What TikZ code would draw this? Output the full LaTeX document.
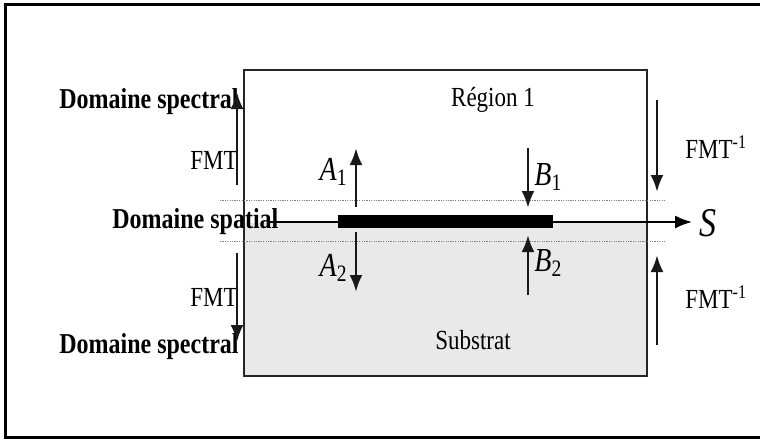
\documentclass[tikz,border=0pt]{standalone}
\usepackage{fontspec}
\setmainfont{Liberation Serif}
\usetikzlibrary{arrows.meta}
\newcommand{\tallt}[1]{\scalebox{1}[1.2]{#1}}
\newcommand{\amplab}[2]{\textit{#1}\textsubscript{#2}}

\begin{document}
\begin{tikzpicture}[x=0.5pt,y=-0.5pt,
		dom/.style={inner sep=0pt,font=\fontsize{12}{14}\selectfont\bfseries},
		lbl/.style={inner sep=0pt,font=\fontsize{11.5}{14}\selectfont},
		amp/.style={inner sep=0pt,font=\fontsize{14}{16}\selectfont},
		fleche/.style={line width=1.4pt,black!90,-{Latex[length=8.5pt,width=6.5pt]}},
		pointille/.style={gray,line width=0.5pt,dash pattern=on 0.6pt off 0.6pt}]
		\useasboundingbox (0,0) rectangle (760,439);
		\draw[line width=1.5pt] (760,4) -- (5,4) -- (5,437) -- (760,437);
		\fill[gray!17] (244,223) rectangle (647,376);
		\draw[line width=1pt,black!85] (244,70) rectangle (647,376);
		\foreach \y in {200,241}
			\draw[pointille] (220,\y) -- (665,\y);
		\node[dom,anchor=east] (spec1) at (239,102) {\tallt{Domaine spectral}};
		\node[lbl,anchor=east] (fmt1) at (238,160) {\tallt{FMT}};
		\node[dom,anchor=west] (spat) at (112,222) {\tallt{Domaine spatial}};
		\node[lbl,anchor=east] (fmt2) at (238,297) {\tallt{FMT}};
		\node[dom,anchor=east] (spec2) at (239,347) {\tallt{Domaine spectral}};
		\node[lbl] (reg) at (493,100) {\tallt{Région 1}};
		\node[lbl] (sub) at (473,340) {\tallt{Substrat}};
		\node[lbl,anchor=west] (fmtinv1) at (685,147) {\tallt{FMT\textsuperscript{-1}}};
		\node[lbl,anchor=west] (fmtinv2) at (685,297) {\tallt{FMT\textsuperscript{-1}}};
		\node[amp,anchor=east] (a1) at (348,172) {\tallt{\amplab{A}{1}}};
		\node[amp,anchor=east] (a2) at (348,268) {\tallt{\amplab{A}{2}}};
		\node[amp,anchor=west] (b1) at (534,177) {\tallt{\amplab{B}{1}}};
		\node[amp,anchor=west] (b2) at (534,263) {\tallt{\amplab{B}{2}}};
		\node[inner sep=0pt,anchor=west,font=\fontsize{17}{19}\selectfont\itshape] (s) at (699,223) {\tallt{S}};
		\coordinate (spatA) at (270,222);
		\coordinate (spatB) at (692,222);
		\draw[line width=0.9pt,-{Latex[length=8.5pt,width=6.5pt]}] (spatA) -- (spatB);
		\fill (338,215) rectangle (553,228);
		\coordinate (g1) at (237,185);
		\coordinate (g1t) at (237,92);
		\coordinate (g2) at (237,253);
		\coordinate (g2t) at (237,342);
		\coordinate (d1) at (657,100);
		\coordinate (d1t) at (657,192);
		\coordinate (d2) at (657,345);
		\coordinate (d2t) at (657,255);
		\coordinate (pa1) at (356,207);
		\coordinate (pa1t) at (356,148);
		\coordinate (pa2) at (356,232);
		\coordinate (pa2t) at (356,292);
		\coordinate (pb1) at (528,148);
		\coordinate (pb1t) at (528,208);
		\coordinate (pb2) at (528,295);
		\coordinate (pb2t) at (528,235);
		\foreach \p in {g1,g2,d1,d2,pa1,pa2,pb1,pb2}
			\draw[fleche] (\p) -- (\p t);
	\end{tikzpicture}
\end{document}
